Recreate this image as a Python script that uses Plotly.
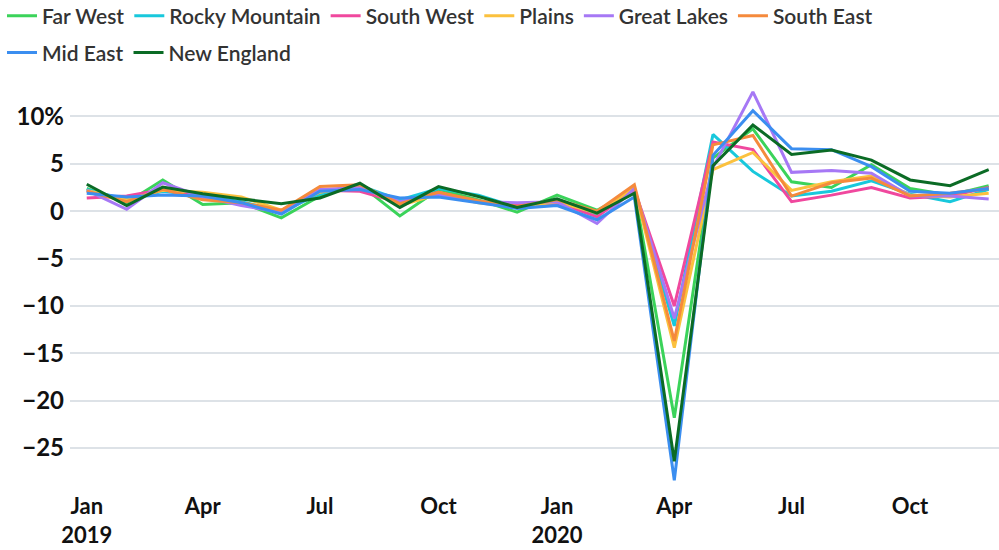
import plotly.graph_objects as go

months = ["2019-01-01", "2019-02-01", "2019-03-01", "2019-04-01", "2019-05-01", "2019-06-01",
          "2019-07-01", "2019-08-01", "2019-09-01", "2019-10-01", "2019-11-01", "2019-12-01",
          "2020-01-01", "2020-02-01", "2020-03-01", "2020-04-01", "2020-05-01", "2020-06-01",
          "2020-07-01", "2020-08-01", "2020-09-01", "2020-10-01", "2020-11-01", "2020-12-01"]

far_west = [2.4, 0.9, 3.3, 0.7, 0.9, -0.7, 1.6, 2.8, -0.5, 2.3, 1.2, -0.1,
            1.7, 0.1, 2.2, -21.8, 5.6, 8.7, 3.1, 2.5, 4.9, 2.4, 1.7, 2.7]
rocky_mountain = [2.3, 1.2, 2.1, 1.6, 1.0, 0.0, 1.8, 2.7, 1.2, 2.4, 1.7, 0.4,
                  0.8, -0.3, 2.2, -12.1, 8.1, 4.2, 1.6, 2.1, 3.2, 1.8, 1.0, 2.3]
south_west = [1.4, 1.6, 2.3, 1.4, 0.8, 0.1, 2.2, 2.1, 0.9, 2.0, 1.0, 0.6,
              0.9, -0.6, 2.3, -10.0, 7.3, 6.5, 1.0, 1.7, 2.5, 1.4, 1.6, 2.5]
plains = [2.2, 1.2, 2.2, 2.0, 1.5, 0.1, 2.0, 2.7, 0.6, 1.8, 0.9, 0.4,
          1.0, -0.2, 2.5, -14.4, 4.4, 6.2, 2.2, 3.1, 3.7, 1.7, 1.5, 1.9]
great_lakes = [2.2, 0.2, 3.0, 1.5, 0.6, -0.1, 2.3, 2.5, 1.0, 1.8, 1.0, 0.9,
               1.0, -1.3, 2.4, -11.3, 4.6, 12.6, 4.1, 4.3, 4.0, 1.6, 1.6, 1.3]
south_east = [2.1, 1.0, 2.3, 1.2, 0.9, 0.1, 2.6, 2.8, 0.8, 2.0, 1.1, 0.5,
              1.2, 0.0, 2.8, -13.7, 7.0, 8.0, 1.6, 3.0, 3.5, 1.6, 1.9, 2.4]
mid_east = [1.9, 1.5, 1.7, 1.6, 0.9, -0.3, 2.1, 2.3, 1.4, 1.5, 0.9, 0.3,
            0.6, -0.9, 1.5, -28.4, 5.9, 10.6, 6.6, 6.5, 4.7, 2.1, 1.9, 2.4]
new_england = [2.85, 0.6, 2.55, 1.85, 1.3, 0.8, 1.4, 2.95, 0.4, 2.6, 1.55, 0.4,
               1.3, -0.2, 1.9, -26.4, 4.8, 9.1, 6.0, 6.45, 5.4, 3.3, 2.7, 4.4]

series_names = ["Far West", "Rocky Mountain", "South West", "Plains",
                "Great Lakes", "South East", "Mid East", "New England"]
series_values = [far_west, rocky_mountain, south_west, plains,
                 great_lakes, south_east, mid_east, new_england]
series_colors = ["#3bd35a", "#18c8dc", "#f0489e", "#fbc13e",
                 "#a678f5", "#f58a3c", "#3b8ef0", "#0b6b25"]
legend_rows = ["legend", "legend", "legend", "legend", "legend", "legend", "legend2", "legend2"]

x_tick_vals = ["2019-01-01", "2019-04-01", "2019-07-01", "2019-10-01",
               "2020-01-01", "2020-04-01", "2020-07-01", "2020-10-01"]
x_tick_text = ["Jan<br>2019", "Apr", "Jul", "Oct", "Jan<br>2020", "Apr", "Jul", "Oct"]

fig = go.Figure()
for name, vals, col, lg in zip(series_names, series_values, series_colors, legend_rows):
    fig.add_trace(go.Scatter(x=months, y=vals, name=name, mode="lines", legend=lg,
                             line=dict(color=col, width=3)))

font_family = "Lato, 'Noto Sans', sans-serif"
legend_font = dict(family=font_family, size=21, color="#333333", weight=600)
tick_font = dict(family=font_family, size=24, color="#111111", weight=700)
fig.update_layout(
    width=999, height=550,
    margin=dict(l=70, r=0, t=89, b=65, autoexpand=False),
    paper_bgcolor="white", plot_bgcolor="white",
    font=dict(family=font_family, size=20, color="#1a1a1a"),
    showlegend=True,
    legend=dict(orientation="h", x=-0.0732, y=1.236, xanchor="left", yanchor="top",
                font=legend_font, itemwidth=30),
    legend2=dict(orientation="h", x=-0.0732, y=1.143, xanchor="left", yanchor="top",
                 font=legend_font, itemwidth=30),
    xaxis=dict(type="date", range=["2018-12-19", "2020-12-09"],
               tickvals=x_tick_vals, ticktext=x_tick_text, automargin=False,
               showgrid=False, zeroline=False, showline=False, ticks="",
               ticklabelstandoff=6, tickfont=dict(tick_font, size=22)),
    yaxis=dict(range=[-28.9, 12.9], dtick=5, tick0=0, ticksuffix="%", automargin=False,
               showticksuffix="last", showgrid=True, gridcolor="#dde2e7", gridwidth=2,
               zeroline=False, showline=False, ticks="", ticklabelstandoff=5,
               tickfont=tick_font),
)

fig.write_html("out.html", config={"displayModeBar": False},
               post_script="document.body.style.margin='0';document.body.style.overflow='hidden';")
